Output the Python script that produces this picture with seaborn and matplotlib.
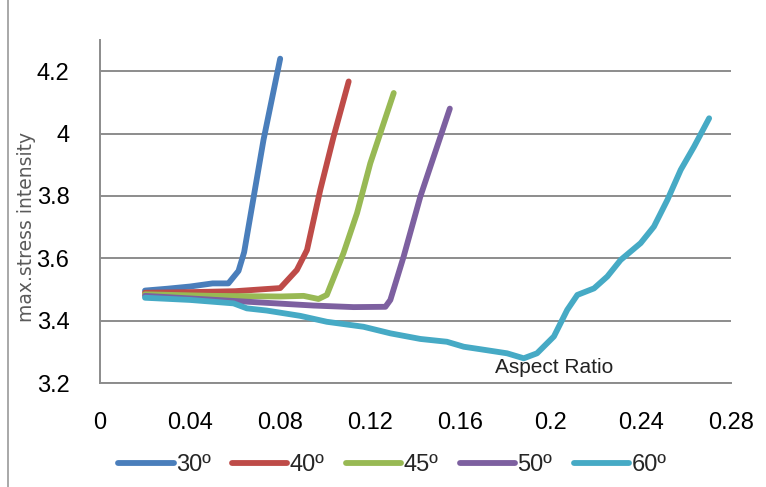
import pandas as pd
import matplotlib.pyplot as plt
import seaborn as sns
from matplotlib.lines import Line2D

# values
x30 = [0.02, 0.03, 0.04, 0.05, 0.057, 0.0615, 0.064, 0.0726, 0.08]
y30 = [3.497, 3.503, 3.51, 3.52, 3.52, 3.56, 3.62, 3.98, 4.24]

x40 = [0.02, 0.04, 0.06, 0.08, 0.0874, 0.0919, 0.0978, 0.1037, 0.1104]
y40 = [3.49, 3.492, 3.495, 3.505, 3.563, 3.627, 3.82, 3.99, 4.167]

x45 = [0.02, 0.05, 0.08, 0.0904, 0.097, 0.1007, 0.1081, 0.1141, 0.12, 0.1304]
y45 = [3.485, 3.48, 3.478, 3.48, 3.47, 3.483, 3.617, 3.745, 3.905, 4.13]

x50 = [0.02, 0.0637, 0.0948, 0.1126, 0.1267, 0.1289, 0.1348, 0.1422, 0.1553]
y50 = [3.48, 3.462, 3.449, 3.444, 3.445, 3.467, 3.606, 3.798, 4.08]

x60 = [0.02, 0.04, 0.0593, 0.0652, 0.074, 0.0889, 0.1007, 0.117, 0.1289, 0.1422,
       0.154, 0.1615, 0.1689, 0.1807, 0.1881, 0.194, 0.2015, 0.2074, 0.2119, 0.2193,
       0.2252, 0.2311, 0.24, 0.2459, 0.2519, 0.2578, 0.2637, 0.2704]
y60 = [3.474, 3.467, 3.456, 3.44, 3.433, 3.416, 3.397, 3.381, 3.36, 3.342,
       3.333, 3.317, 3.309, 3.296, 3.28, 3.296, 3.35, 3.435, 3.483, 3.504,
       3.542, 3.595, 3.649, 3.702, 3.788, 3.884, 3.958, 4.049]

labels = ['30º', '40º', '45º', '50º', '60º']
colors = ['#4A7EBB', '#BE4B48', '#98B954', '#7D60A0', '#46AAC5']
xticks = [0, 0.04, 0.08, 0.12, 0.16, 0.2, 0.24, 0.28]
xticklabels = ['0', '0.04', '0.08', '0.12', '0.16', '0.2', '0.24', '0.28']
yticks = [3.2, 3.4, 3.6, 3.8, 4.0, 4.2]
yticklabels = ['3.2', '3.4', '3.6', '3.8', '4', '4.2']

frames = []
for lab, xs, ys in zip(labels, [x30, x40, x45, x50, x60], [y30, y40, y45, y50, y60]):
    frames.append(pd.DataFrame({'ratio': xs, 'stress': ys, 'angle': lab}))
data = pd.concat(frames, ignore_index=True)

sns.set_style('white')
plt.rcParams['font.family'] = ['Liberation Sans', 'DejaVu Sans']

fig = plt.figure(figsize=(7.66, 4.87), dpi=100)
ax = fig.add_axes([0.1305, 0.213, 0.8235, 0.705])

lw = 4.2
sns.lineplot(data=data, x='ratio', y='stress', hue='angle', palette=colors,
             estimator=None, sort=False, linewidth=lw, ax=ax,
             solid_capstyle='round', solid_joinstyle='round')

grid_c = '#8c8c8c'
ax.set_xlim(0, 0.28)
ax.set_ylim(3.2, 4.3)
ax.set_yticks(yticks)
ax.set_yticklabels(yticklabels, fontsize=17)
ax.set_xticks(xticks)
ax.set_xticklabels(xticklabels, fontsize=17)
ax.yaxis.grid(True, color=grid_c, linewidth=1.4)
ax.set_axisbelow(True)
ax.tick_params(axis='y', length=9, width=1.4, color=grid_c, pad=13, labelcolor='black')
ax.tick_params(axis='x', length=8, width=1.4, color=grid_c, pad=13, labelcolor='black')
for s in ['top', 'right']:
    ax.spines[s].set_visible(False)
for s in ['left', 'bottom']:
    ax.spines[s].set_color(grid_c)
    ax.spines[s].set_linewidth(1.4)
ax.set_xlabel('')
ax.set_ylabel('')

ax.text(0.2018, 3.249, 'Aspect Ratio', ha='center', va='center', fontsize=15,
        color='#222222')
fig.text(0.034, 0.535, 'max.stress intensity', rotation=90, ha='center', va='center',
         fontsize=13.5, family='DejaVu Sans', color='#5a5a5a')

handles = [Line2D([], [], color=c, linewidth=lw, solid_capstyle='round') for c in colors]
ax.get_legend().remove()
fig.legend(handles, labels, loc='center', bbox_to_anchor=(0.512, 0.045), ncol=5,
           frameon=False, handlelength=2.35, handletextpad=0.1, columnspacing=0.9,
           prop={'size': 17})

fig.add_artist(Line2D([8 / 766, 8 / 766], [0, 1], color='#9a9a9a', linewidth=1.2))

fig.savefig('out.png', dpi=100)
